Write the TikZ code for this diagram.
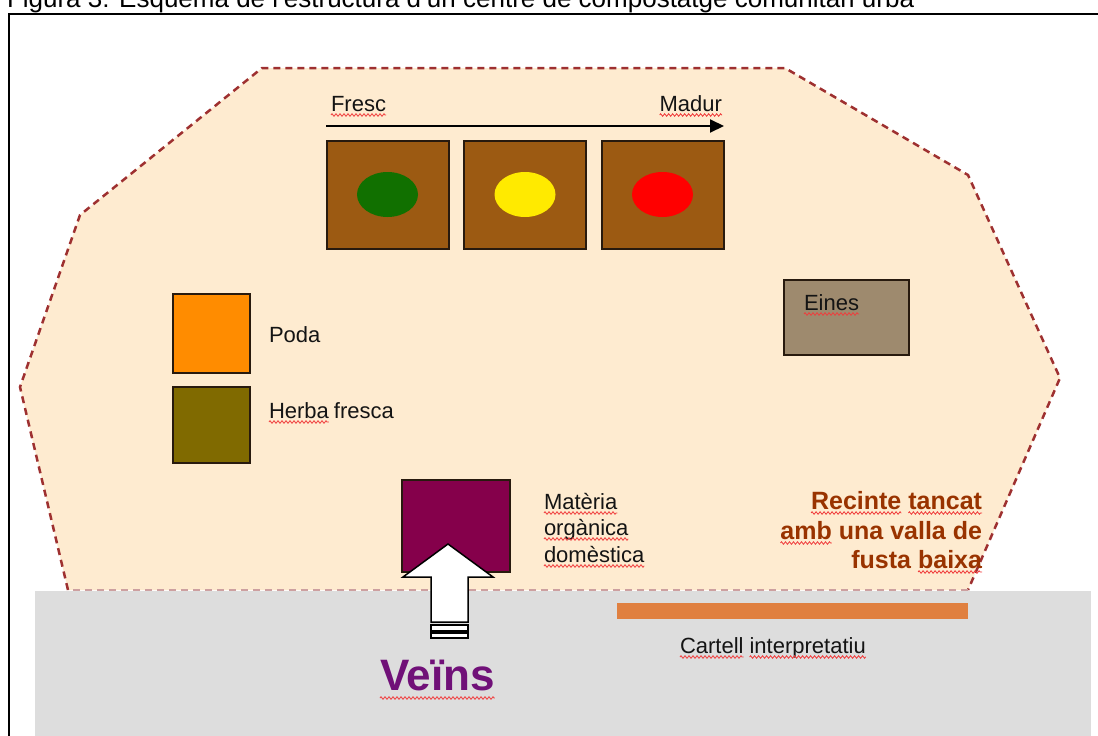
\documentclass[tikz,border=0pt]{standalone}
\usepackage{fontspec}
\setmainfont{Liberation Sans}
\usetikzlibrary{arrows.meta,shapes.geometric,decorations.pathmorphing}
\newcommand\fsz[1]{\fontsize{#1}{#1}\selectfont}
\definecolor{zone}{RGB}{254,235,208}
\definecolor{fence}{RGB}{158,48,48}
\definecolor{fencelight}{RGB}{205,160,160}
\definecolor{ground}{RGB}{221,221,221}
\definecolor{edge}{RGB}{40,26,14}
\definecolor{compost}{RGB}{156,90,18}
\definecolor{cgreen}{RGB}{17,112,0}
\definecolor{cyellow}{RGB}{255,234,0}
\definecolor{cred}{RGB}{255,0,0}
\definecolor{poda}{RGB}{255,140,0}
\definecolor{herba}{RGB}{128,106,0}
\definecolor{eines}{RGB}{158,138,110}
\definecolor{organic}{RGB}{133,0,75}
\definecolor{sign}{RGB}{224,128,64}
\definecolor{txt}{RGB}{20,20,20}
\definecolor{recinte}{RGB}{153,51,0}
\definecolor{veins}{RGB}{112,16,120}
\definecolor{squigred}{RGB}{240,60,60}
\tikzset{
  bin/.style={draw=edge, line width=1.5pt, fill=compost, minimum width=122pt, minimum height=108pt},
  heap/.style={ellipse, minimum width=61pt, minimum height=45pt},
  pile/.style={draw=edge, line width=1.5pt, minimum width=77pt},
  lbl/.style={anchor=base west, text=txt, font=\fsz{22}},
  rec/.style={anchor=base east, text=recinte, font=\bfseries\fsz{25}},
  fenceline/.style={draw=fence, line width=2.5pt, dash pattern=on 7pt off 5pt},
  blockarrow/.style={draw=black, fill=white, line width=1.5pt, line join=miter},
  squig/.style={draw=squigred, line width=0.8pt, decorate, decoration={zigzag, amplitude=1.3pt, segment length=4pt}}
}
\newcommand\sq[2][4]{\draw[squig] ([yshift=-#1pt]#2.base west) -- ([yshift=-#1pt]#2.base east);}
\begin{document}
\begin{tikzpicture}[x=1pt,y=-1pt, every node/.style={inner sep=0pt, outer sep=0pt}]
\useasboundingbox (0,0) rectangle (1098,736);
% caption (cut off at the top, as in the reference)
\node[anchor=base west, text=black, font=\fsz{26}] (cap) at (7,7) {Figura 3: Esquema de l'estructura d'un centre de compostatge comunitari urbà};
% frame
\draw[line width=2.5pt] (9,745) -- (9,14) -- (1105,14);
% enclosure
\fill[zone] (262,68) -- (785,68) -- (968,175) -- (1060,378) -- (968,590) -- (68,590) -- (20,387) -- (80,215) -- cycle;
% ground
\fill[ground] (35,591) rectangle (1091,745);
\draw[fenceline] (68,590) -- (20,387) -- (80,215) -- (262,68) -- (785,68) -- (968,175) -- (1060,378) -- (968,590);
\draw[fenceline, draw=fencelight] (968,590) -- (68,590);
% maturity arrow
\coordinate (fs) at (326,126);
\coordinate (fe) at (724,126);
\draw[line width=2pt, -{Triangle[length=14pt,width=13pt]}] (fs) -- (fe);
\node[lbl] (fresc) at (331,111) {Fresc};
\node[lbl, anchor=base east] (madur) at (722,111) {Madur};
\sq{fresc} \sq{madur}
% compost bins
\node[bin] (b1) at (388,195) {};
\node[bin] (b2) at (525,195) {};
\node[bin] (b3) at (663,195) {};
\node[heap, fill=cgreen] (e1) at (387.5,194.5) {};
\node[heap, fill=cyellow] (e2) at (525,194.5) {};
\node[heap, fill=cred] (e3) at (662.5,194.5) {};
% piles
\node[pile, fill=poda, minimum height=79pt] (poda) at (211.5,333.5) {};
\node[pile, fill=herba, minimum height=76pt] (herba) at (211.5,425) {};
\node[lbl] (podat) at (269,342) {Poda};
\node[lbl] (herbat) at (269,418) {Herba};
\node[lbl] (frescat) at ([xshift=5pt]herbat.base east) {fresca};
\sq{herbat}
% tools
\node[draw=edge, line width=1.5pt, fill=eines, minimum width=125pt, minimum height=75pt] (eines) at (846.5,317.5) {};
\node[lbl] (einest) at (804,310) {Eines};
\sq{einest}
% household organic matter
\node[draw=edge, line width=1.5pt, fill=organic, minimum width=108pt, minimum height=92pt] (mat) at (456,526) {};
\node[lbl] (m1) at (544,509) {Matèria};
\node[lbl] (m2) at (544,535) {orgànica};
\node[lbl] (m3) at (544,562) {domèstica};
\sq{m1} \sq{m2} \sq{m3}
% fence label
\node[rec] (r1b) at (982,509) {tancat};
\node[rec] (r1a) at ([xshift=-7pt]r1b.base west) {Recinte};
\node[rec] (r2b) at (982,539) {una valla de};
\node[rec] (r2a) at ([xshift=-7pt]r2b.base west) {amb};
\node[rec] (r3b) at (982,568) {baixa};
\node[rec] (r3a) at ([xshift=-7pt]r3b.base west) {fusta};
\sq{r1a} \sq{r1b} \sq{r2a} \sq{r3b}
% sign
\node[fill=sign, minimum width=351pt, minimum height=16pt] (signbar) at (792.5,611) {};
\node[lbl] (s1) at (680,653) {Cartell};
\node[lbl] (s2) at ([xshift=6pt]s1.base east) {interpretatiu};
\sq{s1} \sq{s2}
% neighbours arrow
\draw[blockarrow] (448,544) -- (493,577) -- (468,577) -- (468,622) -- (431,622) -- (431,577) -- (403,577) -- cycle;
\draw[blockarrow] (431,625) rectangle (468,631);
\draw[blockarrow] (431,633) rectangle (468,638);
\node[anchor=base west, text=veins, font=\bfseries\fsz{44}] (veins) at (380,690) {Veïns};
\sq[8]{veins}
\end{tikzpicture}
\end{document}
